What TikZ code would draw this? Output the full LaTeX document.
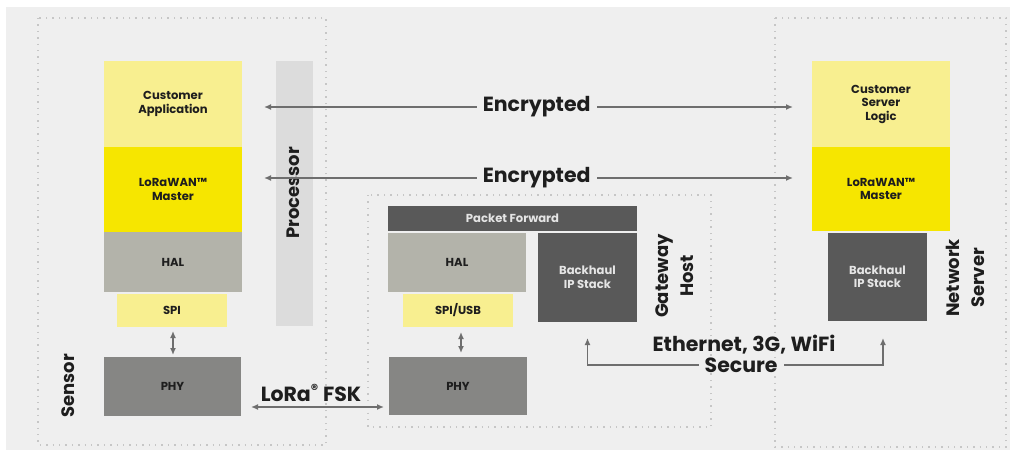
\documentclass[tikz,border=0pt]{standalone}
\usepackage{fontspec}
\setmainfont{Poppins}
\usepackage{xcolor}
\usetikzlibrary{arrows.meta}

\definecolor{bg}{HTML}{EFEFEF}
\definecolor{ylight}{HTML}{F8EF90}
\definecolor{ybright}{HTML}{F6E600}
\definecolor{hal}{HTML}{B3B3AA}
\definecolor{phy}{HTML}{868684}
\definecolor{dark}{HTML}{595959}
\definecolor{procbar}{HTML}{DCDCDC}
\definecolor{dots}{HTML}{C6C6C6}
\definecolor{arrgray}{HTML}{6E6E6E}
\definecolor{txt}{HTML}{1E1E1E}

\begin{document}
\begin{tikzpicture}[x=1pt, y=-1pt,
  blk/.style={inner sep=0pt, outer sep=0pt, align=center, text=txt,
    font=\fontsize{11.6}{13.5}\selectfont\bfseries},
  darkblk/.style={blk, fill=dark, text=white!90!black},
  lbl/.style={inner sep=0pt, align=center, text=txt,
    font=\fontsize{18}{25}\selectfont\bfseries},
  biglbl/.style={lbl, font=\fontsize{20.5}{25}\selectfont\bfseries},
  region/.style={draw=dots, line width=1.4pt, dash pattern=on 1.4pt off 5pt},
  arr/.style={draw=arrgray, line width=1.4pt, {Latex[length=7pt,width=6pt]}-{Latex[length=7pt,width=6pt]}}]
  \useasboundingbox (0,0) rectangle (1010,450);
  % Draw the background and the dotted regions
  \fill[bg] (6,7) rectangle (1010,450);
  \draw[region] (38,18) rectangle (326,445);
  \draw[region] (368,195) rectangle (711,427);
  \draw[region] (775,18) rectangle (1006,447);

  % Sensor stack
  \node[blk, fill=procbar, minimum width=37pt, minimum height=265pt] (proc) at (294.5,193.5) {};
  \node[lbl, rotate=90] (proclbl) at (293,193) {Processor};
  \node[blk, fill=ylight, minimum width=138pt, minimum height=86pt] (app) at (173,104) {Customer\\Application};
  \node[blk, fill=ybright, minimum width=138pt, minimum height=85pt] (lwS) at (173,189.5) {LoRaWAN™\\Master};
  \node[blk, fill=hal, minimum width=138pt, minimum height=60pt] (halS) at (173,262) {HAL};
  \node[blk, fill=ylight, minimum width=110pt, minimum height=33pt] (spiS) at (172,310.5) {SPI};
  \node[blk, fill=phy, minimum width=137pt, minimum height=59pt] (phyS) at (172.5,386.5) {PHY};
  \node[lbl, rotate=90] (sensor) at (68,386) {Sensor};

  % Gateway stack
  \node[darkblk, minimum width=249pt, minimum height=25pt] (pf) at (512.5,218.5) {Packet Forward};
  \node[blk, fill=hal, minimum width=138pt, minimum height=59pt] (halG) at (457,262.5) {HAL};
  \node[blk, fill=ylight, minimum width=110pt, minimum height=33pt] (spiG) at (458,310.5) {SPI/USB};
  \node[darkblk, minimum width=99pt, minimum height=89pt] (bhG) at (587.5,277.5) {Backhaul\\IP Stack};
  \node[blk, fill=phy, minimum width=138pt, minimum height=58pt] (phyG) at (458,386) {PHY};
  \node[lbl, rotate=90] (gwhost) at (675,276) {Gateway\\Host};

  % Network server stack
  \node[blk, fill=ylight, minimum width=138pt, minimum height=86pt] (csl) at (881,104) {Customer\\Server\\Logic};
  \node[blk, fill=ybright, minimum width=138pt, minimum height=84pt] (lwN) at (881,189) {LoRaWAN™\\Master};
  \node[darkblk, minimum width=99pt, minimum height=88pt] (bhN) at (877.5,277) {Backhaul\\IP Stack};
  \node[lbl, rotate=90] (netsrv) at (965,278) {Network\\Server};

  % Connectors
  \draw[arr, shorten <=22pt, shorten >=19pt] ([yshift=-3pt]app.east) -- node[pos=0.517, biglbl, fill=bg, inner xsep=6pt] {Encrypted} ([yshift=-3pt]csl.west);
  \draw[arr, shorten <=22pt, shorten >=19pt] ([yshift=11.5pt]lwS.east) -- node[pos=0.517, biglbl, fill=bg, inner xsep=6pt] {Encrypted} ([yshift=11pt]lwN.west);
  \draw[arr, shorten <=4pt, shorten >=2pt] ([xshift=1pt]spiS.south) -- ([xshift=0.5pt]phyS.north);
  \draw[arr, shorten <=5pt, shorten >=4pt] ([xshift=3pt]spiG.south) -- ([xshift=3pt]phyG.north);
  \draw[arr, shorten <=10pt, shorten >=5pt] ([yshift=-20.5pt]phyS.east) -- ([yshift=-21pt]phyG.west);
  \node[biglbl] (lora) at (311,393) {LoRa\textsuperscript{®} FSK};
  \coordinate (ethL) at ([yshift=-16pt]bhG.south);
  \coordinate (ethR) at ([xshift=5.5pt,yshift=-17pt]bhN.south);
  \draw[arr] (ethL) -- ++(0,27) coordinate (ethBL) -- node[pos=0.52, biglbl, fill=bg, inner xsep=6pt] {Secure} (ethBL -| ethR) -- (ethR);
  \node[biglbl] (eth) at (744,345) {Ethernet, 3G, WiFi};
\end{tikzpicture}
\end{document}
